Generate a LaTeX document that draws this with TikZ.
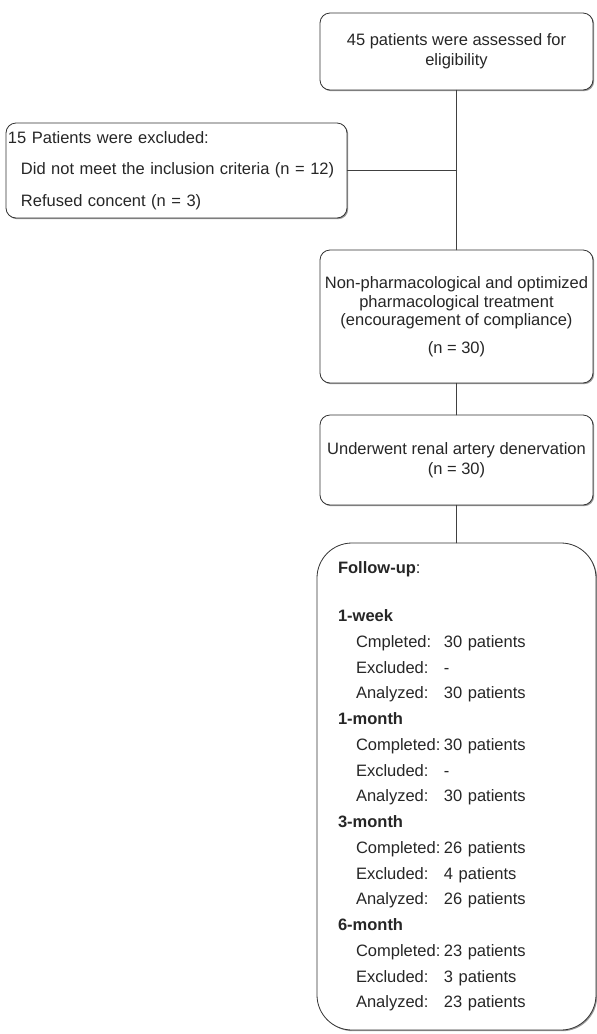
\documentclass[tikz,border=0pt]{standalone}
\usepackage{fontspec}
\setmainfont{Liberation Sans}
\usetikzlibrary{shadows}
\newcommand{\fitem}[2]{\hspace*{18pt}\makebox[88pt][l]{#1}#2}
\begin{document}
\begin{tikzpicture}[x=1pt,y=-1pt,line join=round,line cap=round,font=\fontsize{16.5}{18.5}\selectfont,
stage/.style={draw=black!80,line width=0.8pt,rounded corners=10pt,fill=white,text=black!85,inner sep=0pt,align=center,
drop shadow={shadow xshift=1.2pt,shadow yshift=-1.2pt,fill=black!50,opacity=0.8}},
link/.style={draw=black!75,line width=1.3pt}]
\useasboundingbox(0,0)rectangle(597,1034);
\node[stage,minimum width=273pt,minimum height=77pt,font=\fontsize{16.5}{20}\selectfont](assess)at(456.5,51.5){45 patients were assessed for\\eligibility};
\node[stage,align=left,text width=337pt,minimum width=341pt,minimum height=95pt,font=\fontsize{16.5}{31.5}\selectfont](excl)at(176.5,170.5){15 Patients were excluded:\\\hspace*{13pt}Did not meet the inclusion criteria (n = 12)\\\hspace*{13pt}Refused concent (n = 3)};
\node[stage,minimum width=273pt,minimum height=133pt](treat)at(456.5,316.5){Non-pharmacological and optimized\\pharmacological treatment\\(encouragement of compliance)\\[9pt](n = 30)};
\node[stage,minimum width=273pt,minimum height=90pt,font=\fontsize{16.5}{20}\selectfont](rdn)at(456.5,460){Underwent renal artery denervation\\(n = 30)};
\node[stage,rounded corners=35pt,align=left,text width=237pt,minimum width=279pt,minimum height=487pt,font=\fontsize{16.5}{25.75}\selectfont](follow)at(456.5,786.5){\textbf{Follow-up}:\\[22.3pt]
\textbf{1-week}\\\fitem{Cmpleted:}{30 patients}\\\fitem{Excluded:}{-}\\\fitem{Analyzed:}{30 patients}\\
\textbf{1-month}\\\fitem{Completed:}{30 patients}\\\fitem{Excluded:}{-}\\\fitem{Analyzed:}{30 patients}\\
\textbf{3-month}\\\fitem{Completed:}{26 patients}\\\fitem{Excluded:}{4 patients}\\\fitem{Analyzed:}{26 patients}\\
\textbf{6-month}\\\fitem{Completed:}{23 patients}\\\fitem{Excluded:}{3 patients}\\\fitem{Analyzed:}{23 patients}};
\coordinate(j)at(assess.south|-excl.east);
\draw[link](assess)--(treat);
\draw[link](excl)--(j);
\draw[link](treat)--(rdn);
\draw[link](rdn)--(follow);
\end{tikzpicture}
\end{document}
